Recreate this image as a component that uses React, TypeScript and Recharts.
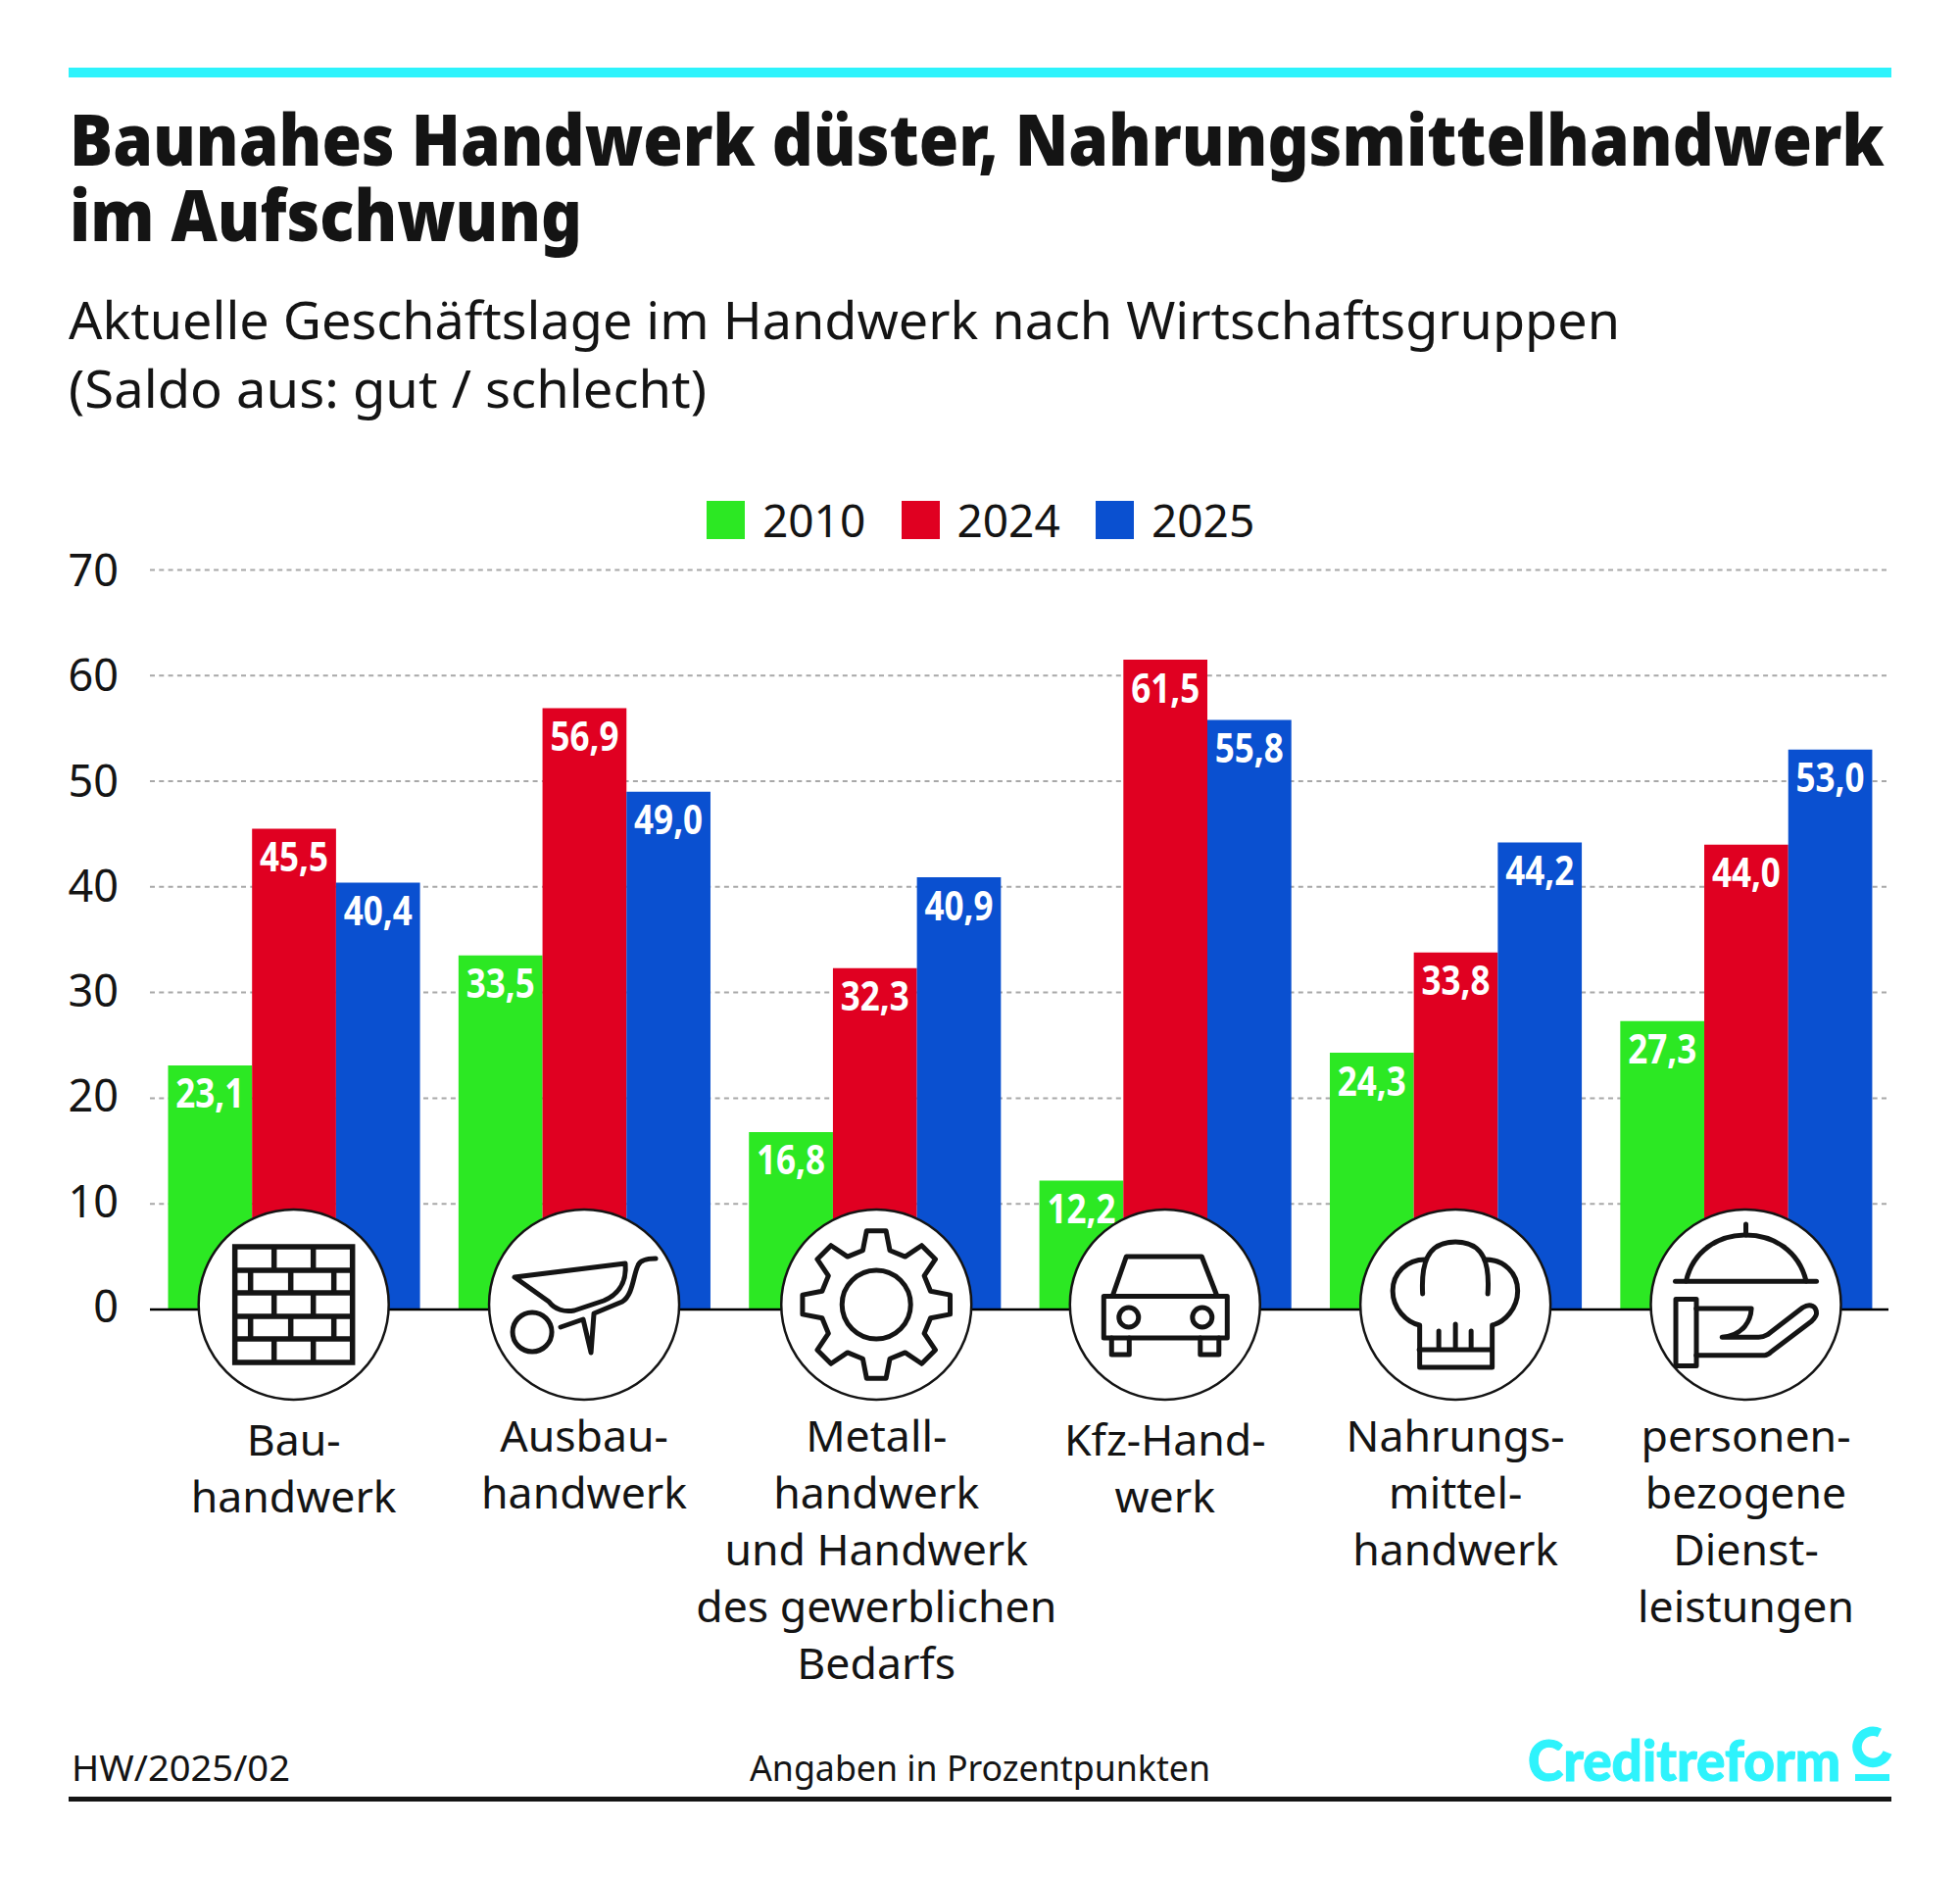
import React, { useLayoutEffect, useRef, useState } from "react";
import { BarChart, Bar, XAxis, YAxis, CartesianGrid, Legend, LabelList } from "recharts";

const categories = ["Bau-handwerk", "Ausbau-handwerk", "Metall-handwerk", "Kfz-Handwerk", "Nahrungsmittelhandwerk", "personenbezogene Dienstleistungen"];
const categoryLines = [
  ["Bau-", "handwerk"],
  ["Ausbau-", "handwerk"],
  ["Metall-", "handwerk", "und Handwerk", "des gewerblichen", "Bedarfs"],
  ["Kfz-Hand-", "werk"],
  ["Nahrungs-", "mittel-", "handwerk"],
  ["personen-", "bezogene", "Dienst-", "leistungen"],
];
const values2010 = [23.1, 33.5, 16.8, 12.2, 24.3, 27.3];
const values2024 = [45.5, 56.9, 32.3, 61.5, 33.8, 44.0];
const values2025 = [40.4, 49.0, 40.9, 55.8, 44.2, 53.0];
const yTicks = [0, 10, 20, 30, 40, 50, 60, 70];
const data = categories.map((name, i) => ({ name, y2010: values2010[i], y2024: values2024[i], y2025: values2025[i] }));

const GREEN = "#2CE823";
const RED = "#E00021";
const BLUE = "#0A50D0";
const CYAN = "#2EF3FC";
const INK = "#141414";
const FONT = "'Noto Sans', sans-serif";

const gearPath = () => {
  const pt = (r: number, deg: number) => {
    const a = ((deg - 90) * Math.PI) / 180;
    return `${(r * Math.cos(a)).toFixed(1)},${(r * Math.sin(a)).toFixed(1)}`;
  };
  const parts: string[] = [];
  for (let k = 0; k < 8; k++) {
    const a = k * 45;
    parts.push(pt(57, a - 14), pt(76, a - 7.5), pt(76, a + 7.5), pt(57, a + 14));
  }
  return "M" + parts.join(" L") + " Z";
};

const Icon = ({ index }: { index: number }) => {
  const common = { fill: "none", stroke: INK, strokeWidth: 5, strokeLinejoin: "round" as const, strokeLinecap: "round" as const };
  switch (index) {
    case 0:
      return (
        <g {...common} strokeLinecap="butt" strokeLinejoin="miter" strokeWidth={5.5}>
          <rect x={-60} y={-59} width={120} height={118} />
          <path d="M-60,-35H60M-60,-12H60M-60,12H60M-60,35H60" />
          <path d="M-20,-59V-35M20,-59V-35M-20,-12V12M20,-12V12M-20,35V59M20,35V59" />
          <path d="M-44,-35V-12M-3,-35V-12M41,-35V-12M-44,12V35M-3,12V35M41,12V35" />
        </g>
      );
    case 1:
      return (
        <g {...common}>
          <path d="M-71,-28 L42,-42 C44,-20 32,-9 20,-4 L-10,6 C-20,8 -30,5 -36,-3 Z" />
          <path d="M-24,23 L-1,15 L7,49 L10,9 L39,-3 C50,-10 50,-30 55,-40 C57,-45 63,-47 73,-47" />
          <circle cx={-53} cy={28} r={20} />
        </g>
      );
    case 2:
      return (
        <g {...common}>
          <path d={gearPath()} />
          <circle cx={0} cy={0} r={35} />
        </g>
      );
    case 3:
      return (
        <g {...common}>
          <rect x={-62.5} y={-8.5} width={126} height={42.5} />
          <path d="M-53.5,-9 L-39.5,-49 L37.5,-49 L53,-9" />
          <circle cx={-37} cy={13} r={10} />
          <circle cx={38} cy={13} r={10} />
          <path d="M-54.5,34 V51 H-36.5 V34 M36,34 V51 H55 V34" />
        </g>
      );
    case 4:
      return (
        <g {...common}>
          <path d="M-33.5,-11 C-35,-40 -30,-64 0,-64 C30,-64 35,-40 33,-11" />
          <path d="M-30.5,-46 C-50,-46 -64,-32 -64,-14 C-64,4 -50,18 -36.5,21 V64 H37.5 V21 C50,18 63.5,4 63.5,-14 C63.5,-32 50,-46 30,-46" />
          <path d="M-37,46 H37 M-17,27 V46 M0,20 V46 M16,27 V46" />
        </g>
      );
    default:
      return (
        <g {...common}>
          <path d="M-72,-23.7 H72" />
          <path d="M-61,-24 C-54,-55 -28,-71 0,-71 C28,-71 54,-55 61.5,-24" />
          <path d="M0,-82 V-71" />
          <rect x={-71.5} y={-5.5} width={21} height={68} />
          <path d="M-50.7,4 H5.6 C5,16 -2,31 -24.3,33.3 H13 C17,33.3 19,32.5 22,30.7 L58,3 C66,-2 72,2 72,9 C72,12 70,14 67,17 L26,48 C24,50 22,51.7 19,51.7 H-50.7" />
        </g>
      );
  }
};

const CategoryTick = (props: any) => {
  const { x, y, index } = props;
  const cx = x + (index === 2 ? 1.8 : 0);
  const first = index === 0 || index === 3 ? 149 : 145;
  return (
    <g transform={`translate(${cx},${y})`}>
      <g transform="translate(0,-5)">
        <circle cx={0} cy={0} r={97} fill="#fff" stroke={INK} strokeWidth={2.5} />
        <Icon index={index} />
      </g>
      {categoryLines[index].map((line, i) => (
        <text key={i} x={0} y={first + i * 58} textAnchor="middle" fontFamily={FONT} fontSize={44.6} fill={INK}>
          {line}
        </text>
      ))}
    </g>
  );
};

const ValueTick = (props: any) => {
  const { x, y, payload } = props;
  const shift = -3 + 3.7 * (payload.value / 70);
  return (
    <text x={x} y={y + shift} dy="0.355em" textAnchor="end" fontFamily={FONT} fontSize={45} fill={INK}>
      {payload.value}
    </text>
  );
};

const ValueLabel = (props: any) => {
  const { x, y, width, value } = props;
  return (
    <text
      x={x + width / 2}
      y={y + 43.5}
      textAnchor="middle"
      fontFamily={FONT}
      fontWeight={700}
      fontSize={42}
      fill="#fff"
      textLength={70}
      lengthAdjust="spacingAndGlyphs"
    >
      {Number(value).toFixed(1).replace(".", ",")}
    </text>
  );
};

const LegendContent = (props: any) => (
  <div style={{ display: "flex", height: 40, fontFamily: FONT, fontSize: 46, color: INK, lineHeight: "40px" }}>
    {(props.payload || []).map((p: any) => (
      <div key={p.value} style={{ display: "flex", alignItems: "center", width: 198.5 }}>
        <div style={{ width: 39, height: 39, background: p.color, marginRight: 18 }} />
        <span>{p.value}</span>
      </div>
    ))}
  </div>
);

const FitTitle = ({ x, y, width, children }: { x: number; y: number; width: number; children: string }) => {
  const ref = useRef<SVGTextElement>(null);
  const [sx, setSx] = useState(1);
  useLayoutEffect(() => {
    if (ref.current) setSx(width / ref.current.getComputedTextLength());
  }, [width]);
  return (
    <text ref={ref} transform={`translate(${x},${y}) scale(${sx},1)`} fontSize={73} fontWeight={900} fontFamily={FONT} fill={INK}>
      {children}
    </text>
  );
};

const Header = () => (
  <svg width={2000} height={1916} style={{ position: "absolute", left: 0, top: 0 }}>
    <rect x={70} y={69} width={1860} height={10} fill={CYAN} />
    <FitTitle x={71} y={168.5} width={1852}>Baunahes Handwerk düster, Nahrungsmittelhandwerk</FitTitle>
    <FitTitle x={71} y={246} width={523}>im Aufschwung</FitTitle>
    <g fontFamily={FONT} fill={INK}>
      <text x={70} y={346} fontSize={53} textLength={1583} lengthAdjust="spacingAndGlyphs">
        Aktuelle Geschäftslage im Handwerk nach Wirtschaftsgruppen
      </text>
      <text x={70} y={416} fontSize={53} textLength={651} lengthAdjust="spacingAndGlyphs">
        (Saldo aus: gut / schlecht)
      </text>
      <text x={73} y={1817} fontSize={36} textLength={223} lengthAdjust="spacingAndGlyphs">
        HW/2025/02
      </text>
      <text x={765} y={1817} fontSize={36} textLength={470} lengthAdjust="spacingAndGlyphs">
        Angaben in Prozentpunkten
      </text>
    </g>
    <text x={1559} y={1817} fontFamily="Lato, sans-serif" fontWeight={900} fontSize={58} fill={CYAN} stroke={CYAN} strokeWidth={1} textLength={319} lengthAdjust="spacingAndGlyphs">
      Creditreform
    </text>
    <path d="M1918,1768 A16,16 0 1 0 1926,1788" fill="none" stroke={CYAN} strokeWidth={9.5} />
    <rect x={1893} y={1810} width={35} height={7} fill={CYAN} />
    <rect x={70} y={1833} width={1860} height={5} fill={INK} />
  </svg>
);

export default function App() {
  return (
    <div style={{ position: "absolute", left: 0, top: 0, width: 2000, height: 1916, background: "#fff" }}>
      <Header />
      <div style={{ position: "absolute", left: 0, top: 0 }}>
        <BarChart
          width={2000}
          height={1916}
          data={data}
          barGap={0}
          barSize={85.7}
          margin={{ top: 541.4, right: 73, bottom: 80, left: 53 }}
        >
          <CartesianGrid vertical={false} stroke="#a8a8a8" strokeWidth={2} strokeDasharray="5 4.3" />
          <YAxis
            width={100}
            domain={[0, 70]}
            ticks={yTicks}
            axisLine={false}
            tickLine={false}
            tickSize={0}
            tickMargin={32}
            tick={<ValueTick />}
          />
          <Legend verticalAlign="top" align="left" content={<LegendContent />} wrapperStyle={{ left: 721, top: 510, width: 640 }} />
          <Bar dataKey="y2010" name="2010" fill={GREEN} isAnimationActive={false}>
            <LabelList dataKey="y2010" content={<ValueLabel />} />
          </Bar>
          <Bar dataKey="y2024" name="2024" fill={RED} isAnimationActive={false}>
            <LabelList dataKey="y2024" content={<ValueLabel />} />
          </Bar>
          <Bar dataKey="y2025" name="2025" fill={BLUE} isAnimationActive={false}>
            <LabelList dataKey="y2025" content={<ValueLabel />} />
          </Bar>
          <XAxis
            dataKey="name"
            interval={0}
            height={500}
            padding={{ left: -1.5, right: -2.7 }}
            axisLine={{ stroke: "#000", strokeWidth: 2.5 }}
            tickLine={false}
            tickSize={0}
            tickMargin={0}
            tick={<CategoryTick />}
          />
        </BarChart>
      </div>
    </div>
  );
}
